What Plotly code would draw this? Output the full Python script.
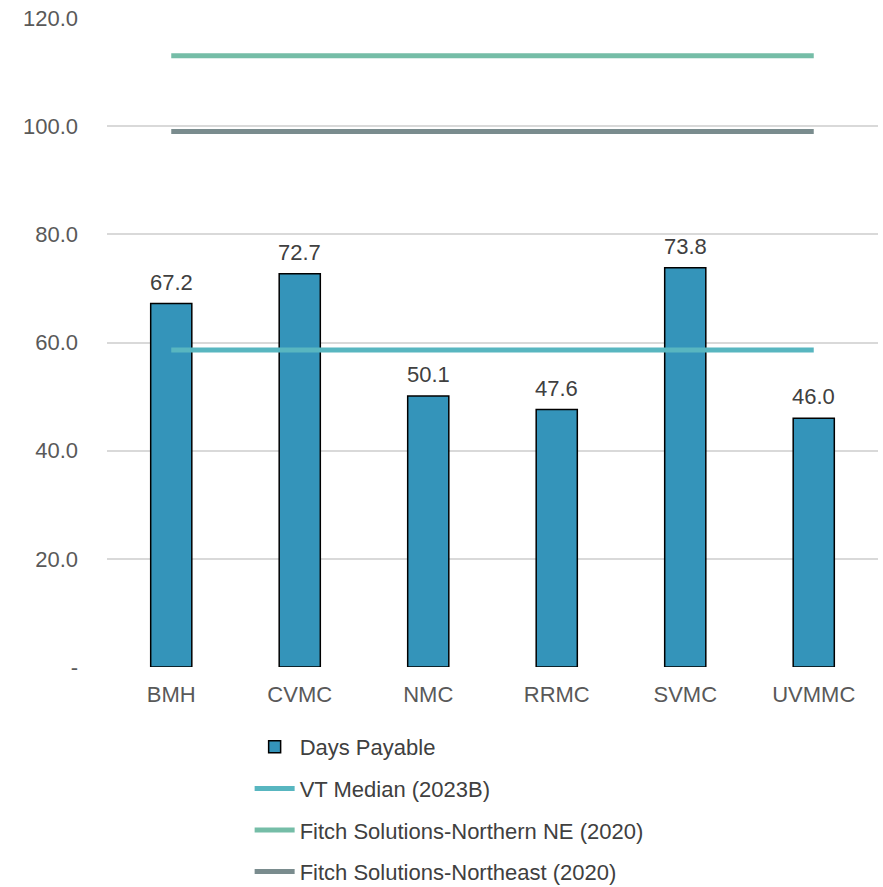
import plotly.graph_objects as go

categories = ["BMH", "CVMC", "NMC", "RRMC", "SVMC", "UVMMC"]
days_payable = [67.2, 72.7, 50.1, 47.6, 73.8, 46.0]
vt_median = [58.6, 58.6, 58.6, 58.6, 58.6, 58.6]
fitch_northern_ne = [113.0, 113.0, 113.0, 113.0, 113.0, 113.0]
fitch_northeast = [99.0, 99.0, 99.0, 99.0, 99.0, 99.0]
tick_vals = [0, 20, 40, 60, 80, 100, 120]
tick_text = ["-", "20.0", "40.0", "60.0", "80.0", "100.0", "120.0"]

FONT = "Liberation Sans"
TXT = "#595959"
FS = 22

fig = go.Figure()
fig.add_trace(go.Bar(
    x=categories, y=days_payable, name="Days Payable",
    marker=dict(color="#3494BA", line=dict(color="#000000", width=1.5)),
    legendgroup="a",
))
fig.add_trace(go.Scatter(
    x=categories, y=vt_median, name="VT Median (2023B)", mode="lines",
    line=dict(color="#58B6C0", width=5), legendgroup="b",
))
fig.add_trace(go.Scatter(
    x=categories, y=fitch_northern_ne, name="Fitch Solutions-Northern NE (2020)", mode="lines",
    line=dict(color="#75BDA7", width=5), legendgroup="c",
))
fig.add_trace(go.Scatter(
    x=categories, y=fitch_northeast, name="Fitch Solutions-Northeast (2020)", mode="lines",
    line=dict(color="#7A8C8E", width=5), legendgroup="d",
))

annotations = [
    dict(x=c, y=v, text=f"{v:.1f}", showarrow=False, xref="x", yref="y",
         yanchor="bottom", yshift=7, font=dict(family=FONT, size=FS, color="#404040"))
    for c, v in zip(categories, days_payable)
]

fig.update_layout(
    width=883, height=887,
    margin=dict(l=107, r=5, t=18, b=220, autoexpand=False),
    paper_bgcolor="white", plot_bgcolor="white",
    font=dict(family=FONT, size=FS, color=TXT),
    bargap=0.68,
    showlegend=True,
    annotations=annotations,
    legend=dict(
        orientation="v", x=0.185, xanchor="left",
        yref="container", y=1 - 726 / 887, yanchor="top",
        traceorder="grouped", tracegroupgap=10,
        font=dict(family=FONT, size=FS, color="#404040"),
        itemwidth=40,
    ),
    xaxis=dict(showgrid=False, showline=False, ticks="", ticklabelstandoff=12,
               tickfont=dict(color=TXT, size=FS)),
    yaxis=dict(
        range=[0, 120], tickvals=tick_vals, ticktext=tick_text,
        showgrid=True, gridcolor="#D9D9D9", gridwidth=1.5,
        zeroline=False, showline=False, ticks="", ticklabelstandoff=28,
        tickfont=dict(color=TXT, size=FS),
    ),
)

fig.write_html("out.html", config={"displayModeBar": False},
               post_script="document.body.style.margin='0';")
